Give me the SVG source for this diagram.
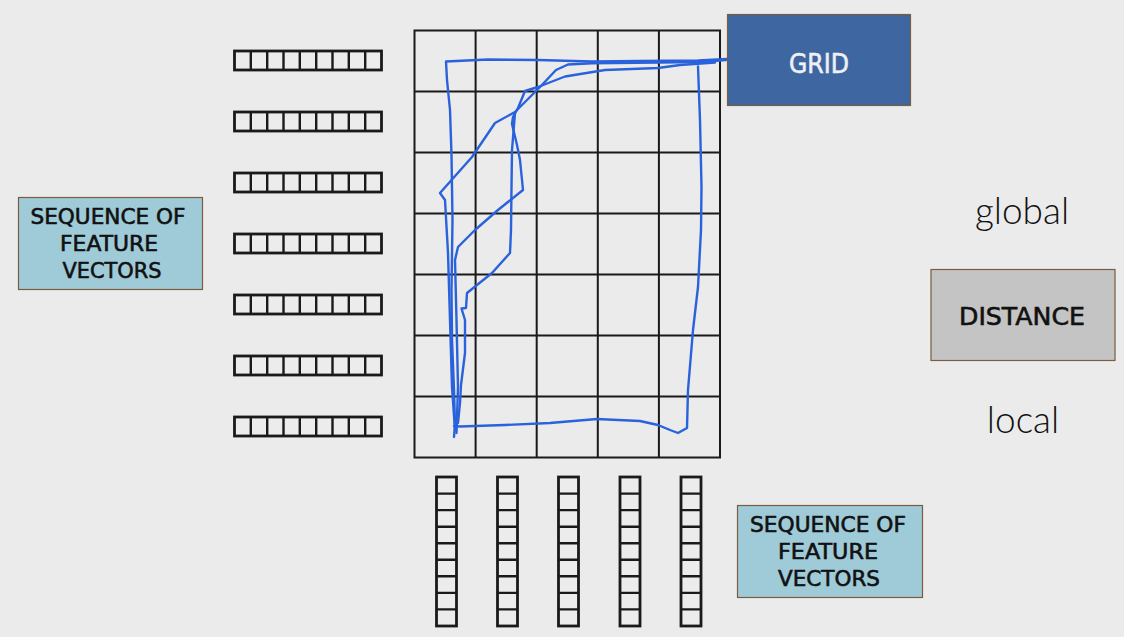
<svg xmlns="http://www.w3.org/2000/svg" width="1124" height="637" viewBox="0 0 1124 637">
<defs>
<style>
.grid{stroke:#1a1a1a;stroke-width:2;fill:none}
.vline{stroke:#1a1a1a;stroke-width:2.4;fill:none}
.vec{stroke:#1a1a1a;stroke-width:2.8;fill:#ececec}
.hand{font-family:"DejaVu Sans","Liberation Sans",sans-serif;font-size:21px;fill:#111;stroke:#111;stroke-width:0.6;text-anchor:middle}
.word{font-family:Lato,"Open Sans",sans-serif;font-weight:300;font-size:37px;fill:#111;text-anchor:middle}
.path{stroke:#2a62dc;stroke-width:2.4;fill:none;stroke-linejoin:round;stroke-linecap:round}
</style>
<g id="rowvec">
<rect class="vec" x="0" y="0" width="147" height="19"/>
<path class="vline" d="M16.3 0V19M32.7 0V19M49 0V19M65.3 0V19M81.7 0V19M98 0V19M114.3 0V19M130.7 0V19"/>
</g>
<g id="colvec">
<rect class="vec" x="0" y="0" width="20" height="149"/>
<path class="vline" d="M0 16.6H20M0 33.1H20M0 49.7H20M0 66.2H20M0 82.8H20M0 99.3H20M0 115.9H20M0 132.4H20"/>
</g>
</defs>
<rect width="1124" height="637" fill="#ebebeb"/>

<g id="grid">
<rect class="grid" x="414.5" y="30.5" width="305.5" height="427"/>
<path class="grid" d="M475.6 30.5V457.5M536.7 30.5V457.5M597.8 30.5V457.5M658.9 30.5V457.5M414.5 91.5H720M414.5 152.5H720M414.5 213.5H720M414.5 274.5H720M414.5 335.5H720M414.5 396.5H720"/>
</g>

<g id="row-vectors">
<use href="#rowvec" x="234.5" y="51"/>
<use href="#rowvec" x="234.5" y="112"/>
<use href="#rowvec" x="234.5" y="173"/>
<use href="#rowvec" x="234.5" y="234"/>
<use href="#rowvec" x="234.5" y="295"/>
<use href="#rowvec" x="234.5" y="356"/>
<use href="#rowvec" x="234.5" y="417"/>
</g>

<g id="column-vectors">
<use href="#colvec" x="436.5" y="477"/>
<use href="#colvec" x="497.5" y="477"/>
<use href="#colvec" x="558.5" y="477"/>
<use href="#colvec" x="620" y="477"/>
<use href="#colvec" x="681" y="477"/>
</g>

<g id="connectors">
<path class="path" d="M727 59 L698 60.5 L640 61 L592 61.5 L538 60 L488 59.5 L446 61.5 L447 80 L450 110 L451.5 155 L452.5 220 L451.5 290 L452 340 L454 390 L455 425 L454 437 M454 426 L460 426.5 L505 425 L550 423 L597 419 L640 421 L658 425 L670 430 L678 433 L687 428 L688 390 L693 330 L698 287 L701 230 L701.5 187 L700 120 L698 66.5"/>
<path class="path" d="M726 60 L700 62 L658 62.5 L592 63.2 L568 64.5 L556 70 L540 87 L515 112 L495 123 L472 157 L440 193 L445 200 L448 253 L450 320 L452 387 L455 430"/>
<path class="path" d="M715 62.5 L680 65 L658 68 L605 70 L565 76.5 L538 87 L525 91 L518 108 L513 117 L512 124 L517 145 L520 160 L523 190 L498 210 L475 230 L458 247 L455 260 L456.5 320 L458 387 L456.5 433"/>
<path class="path" d="M515 113 L512 150 L511.5 187 L511 230 L510 253 L492 273 L467 293 L466 308 L461.5 308.5 L465 320 L465 353 L461 385 L460 403 L458 423"/>
</g>

<g id="grid-label">
<rect x="727.5" y="14.5" width="183" height="91" fill="#3e66a0" stroke="#7a5c40" stroke-width="1.2"/>
<text class="hand" x="819" y="73" style="fill:#eef0f5;stroke:#eef0f5;font-size:27px" textLength="60" lengthAdjust="spacingAndGlyphs">GRID</text>
</g>

<g id="sequence-left">
<rect x="18.5" y="197.5" width="184" height="92" fill="#9fcad8" stroke="#7a5c40" stroke-width="1.2"/>
<text class="hand" x="108" y="224" textLength="155" lengthAdjust="spacingAndGlyphs">SEQUENCE OF</text>
<text class="hand" x="109" y="251" textLength="98" lengthAdjust="spacingAndGlyphs">FEATURE</text>
<text class="hand" x="112" y="278" textLength="99" lengthAdjust="spacingAndGlyphs">VECTORS</text>
</g>

<g id="sequence-bottom">
<rect x="737.5" y="505.5" width="185" height="92" fill="#9fcad8" stroke="#7a5c40" stroke-width="1.2"/>
<text class="hand" x="828" y="532" textLength="156" lengthAdjust="spacingAndGlyphs">SEQUENCE OF</text>
<text class="hand" x="828" y="559" textLength="100" lengthAdjust="spacingAndGlyphs">FEATURE</text>
<text class="hand" x="829" y="586" textLength="102" lengthAdjust="spacingAndGlyphs">VECTORS</text>
</g>

<g id="distance">
<rect x="931" y="269.5" width="184" height="91" fill="#c4c4c4" stroke="#7a5c40" stroke-width="1.2"/>
<text class="hand" x="1022" y="325" style="font-size:24px" textLength="126" lengthAdjust="spacingAndGlyphs">DISTANCE</text>
</g>

<g id="global">
<text class="word" x="1022" y="224">global</text>
</g>
<g id="local">
<text class="word" x="1023" y="433">local</text>
</g>
</svg>
